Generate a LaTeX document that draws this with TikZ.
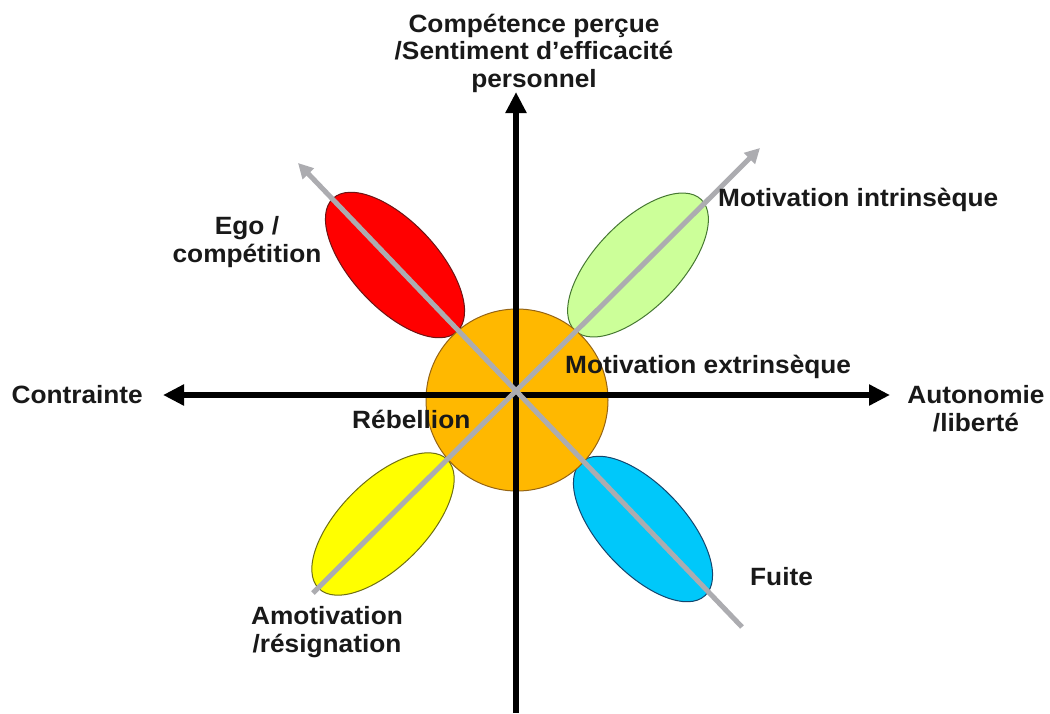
\documentclass[tikz,border=0pt]{standalone}
\usepackage{fontspec}
\setmainfont[FakeStretch=1.05]{Liberation Sans}
\usetikzlibrary{arrows.meta,shapes.geometric}
\definecolor{egofill}{RGB}{255,0,0}
\definecolor{egoline}{RGB}{110,20,20}
\definecolor{intrfill}{RGB}{204,255,153}
\definecolor{intrline}{RGB}{70,120,50}
\definecolor{amofill}{RGB}{255,255,0}
\definecolor{amoline}{RGB}{110,110,20}
\definecolor{fuitefill}{RGB}{0,200,250}
\definecolor{fuiteline}{RGB}{20,70,110}
\definecolor{extrfill}{RGB}{255,184,0}
\definecolor{extrline}{RGB}{150,100,20}
\definecolor{diaggray}{RGB}{172,172,176}
\begin{document}
\begin{tikzpicture}[x=1pt,y=-1pt,
  lab/.style={font=\fontsize{25}{27.5}\selectfont\bfseries, inner sep=0pt, text=black!90},
  leaf/.style={ellipse, inner sep=0pt, minimum width=182pt, minimum height=86pt, line width=1pt},
  axis/.style={line width=5.5pt, -{Triangle[length=21pt,width=20pt]}},
  diag/.style={line width=5pt, draw=diaggray, -{Triangle[length=15pt,width=15pt]}}]
\useasboundingbox (0,0) rectangle (1050,713);
\fill[white] (0,0) rectangle (1050,713);

% leaves
\node[leaf, rotate=-47, fill=egofill, draw=egoline] (ego) at (395,265) {};
\node[leaf, rotate=46, fill=intrfill, draw=intrline] (intr) at (638,265) {};
\node[leaf, rotate=45, fill=amofill, draw=amoline] (amo) at (383,524) {};
\node[leaf, rotate=-47, fill=fuitefill, draw=fuiteline] (fuite) at (643,529) {};

% central circle
\node[circle, inner sep=0pt, minimum size=182pt, fill=extrfill, draw=extrline, line width=1pt] (extr) at (517,400) {};

% axes
\coordinate (vbot) at (516,713);
\coordinate (vtop) at (516,92);
\coordinate (hleft) at (163,395);
\coordinate (hright) at (890,395);
\draw[axis] (vbot) -- (vtop);
\draw[axis, {Triangle[length=21pt,width=20pt]}-{Triangle[length=21pt,width=20pt]}] (hleft) -- (hright);

% diagonal arrows
\coordinate (d1s) at (313,593);
\coordinate (d1e) at (760,148);
\coordinate (d2s) at (742,627);
\coordinate (d2e) at (298,163);
\draw[diag] (d1s) -- (d1e);
\draw[diag] (d2s) -- (d2e);

% labels (anchor=base is the baseline of the last line)
\node[lab, align=center, anchor=base] (comp) at (534,87) {Compétence perçue\\/Sentiment d’efficacité\\personnel};
\node[lab, anchor=base east] (contr) at (143,403) {Contrainte};
\node[lab, align=center, anchor=base] (auto) at (976,431) {Autonomie\\/liberté};
\node[lab, anchor=base west] (mi) at (718,206) {Motivation intrinsèque};
\node[lab, align=center, anchor=base] (egol) at (247,262) {Ego /\\compétition};
\node[lab, anchor=base west] (me) at (565,373) {Motivation extrinsèque};
\node[lab, anchor=base west] (reb) at (352,428) {Rébellion};
\node[lab, anchor=base west] (fuitel) at (750,585) {Fuite};
\node[lab, align=center, anchor=base] (amol) at (327,652) {Amotivation\\/résignation};
\end{tikzpicture}
\end{document}
